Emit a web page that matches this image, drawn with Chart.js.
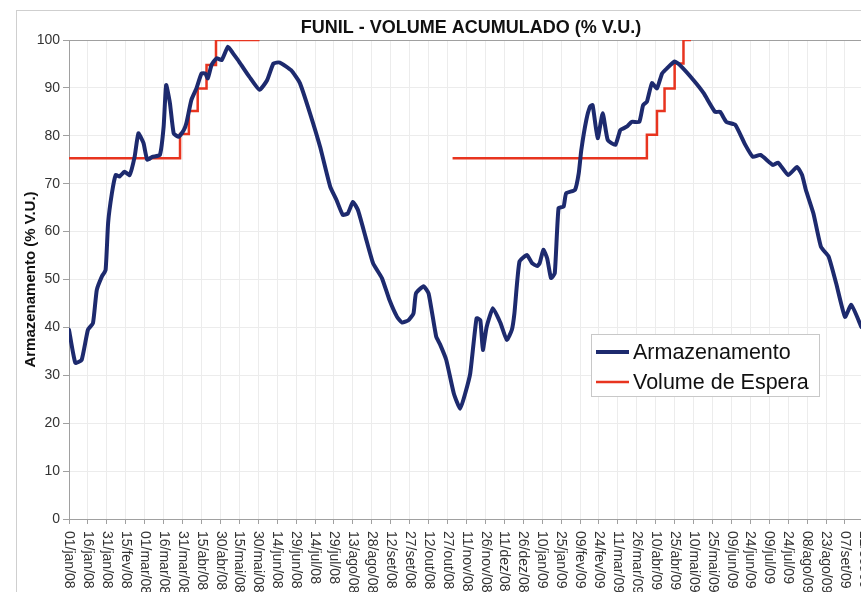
<!DOCTYPE html>
<html>
<head>
<meta charset="utf-8">
<script src="https://cdn.jsdelivr.net/npm/chart.js@4"></script>
<style>
  html, body { margin: 0; padding: 0; background: #fff; overflow: hidden; }
  #wrap { width: 861px; height: 592px; }
</style>
</head>
<body>
<div id="wrap"><canvas id="funil" width="861" height="592"></canvas></div>
<script>
// ===== DATA =====
// day offsets counted from 01/jan/08
const storageDays = [0, 5, 10, 15, 19, 22, 26, 29, 31, 34, 37, 40, 44, 48, 52, 55, 59, 62, 66, 72,
    75, 77, 80, 83, 87, 91, 93, 97, 101, 105, 108, 110, 113, 117, 121, 126, 130, 135, 143, 151,
    157, 162, 167, 176, 183, 191, 199, 207, 212, 217, 221, 225, 229, 235, 241, 248, 254, 260, 264, 269,
    273, 275, 281, 285, 291, 294, 299, 305, 310, 314, 318, 323, 326, 328, 331, 336, 342, 347, 351, 353,
    357, 363, 367, 371, 373, 376, 379, 382, 385, 388, 392, 394, 401, 404, 406, 410, 413, 415, 419, 423,
    427, 433, 437, 442, 446, 452, 455, 458, 462, 466, 470, 474, 480, 484, 495, 503, 512, 516, 521, 528,
    536, 542, 548, 558, 562, 570, 577, 581, 584, 590, 596, 602, 608, 615, 620, 628];
const storageValues = [39.5, 32.6, 33.2, 39.5, 40.9, 47.8, 50.6, 52.0, 61.8, 68.0, 71.8, 71.5, 72.5, 71.8, 75.6, 80.5, 78.5, 75.0, 75.6, 76.0,
    81.9, 90.6, 86.8, 80.5, 79.8, 81.2, 82.6, 87.5, 89.9, 93.0, 93.0, 92.0, 94.8, 96.2, 95.8, 98.6, 97.2, 95.4, 92.3, 89.6,
    91.6, 95.1, 95.3, 93.7, 91.0, 84.7, 77.7, 69.4, 66.6, 63.5, 63.8, 66.2, 64.5, 58.9, 53.4, 50.3, 45.7, 42.2, 41.0, 41.5,
    42.9, 47.1, 48.6, 47.1, 38.1, 36.5, 33.2, 26.2, 23.0, 26.2, 30.4, 41.9, 41.5, 35.3, 40.1, 44.0, 40.9, 37.4, 39.5, 42.9,
    53.7, 55.1, 53.4, 52.8, 53.4, 56.2, 54.4, 50.3, 51.3, 64.9, 65.2, 68.0, 68.7, 72.2, 77.0, 83.3, 86.1, 86.4, 79.5, 84.7,
    79.1, 78.1, 81.2, 81.9, 82.9, 82.9, 86.4, 87.1, 91.0, 89.9, 93.0, 94.1, 95.5, 94.8, 91.6, 88.9, 85.0, 85.0, 82.9, 82.3,
    78.1, 75.6, 76.0, 73.9, 74.4, 71.8, 73.5, 71.8, 68.7, 63.8, 56.8, 54.8, 49.2, 42.2, 44.7, 40.1];

// step start days of the waiting volume (null = no value)
const waitDays = [0, 88, 95, 102, 109, 116.5, 151, 200, 304, 458, 466, 472, 480, 487, 493];
const waitValues = [75.3, 80.4, 85.2, 89.9, 94.8, 100, 100, null, 75.3, 80.2, 85.2, 89.9, 95.1, 100, 100];

const tickStep = 15;
const tickLabels = ['01/jan/08', '16/jan/08', '31/jan/08', '15/fev/08', '01/mar/08', '16/mar/08', '31/mar/08',
    '15/abr/08', '30/abr/08', '15/mai/08', '30/mai/08', '14/jun/08', '29/jun/08', '14/jul/08', '29/jul/08',
    '13/ago/08', '28/ago/08', '12/set/08', '27/set/08', '12/out/08', '27/out/08', '11/nov/08', '26/nov/08',
    '11/dez/08', '26/dez/08', '10/jan/09', '25/jan/09', '09/fev/09', '24/fev/09', '11/mar/09', '26/mar/09',
    '10/abr/09', '25/abr/09', '10/mai/09', '25/mai/09', '09/jun/09', '24/jun/09', '09/jul/09', '24/jul/09',
    '08/ago/09', '23/ago/09', '07/set/09', '22/set/09'];

const seriesNames = ['Armazenamento', 'Volume de Espera'];
const BLUE = '#1d2a6e';
const RED = '#e8341f';
const FONT = "'Liberation Sans', Arial, sans-serif";
const X_MAX = 627.7;

// ===== DECORATION PLUGIN =====
const decor = {
    id: 'decor',
    beforeDraw(chart) {
        const ctx = chart.ctx;
        ctx.save();
        ctx.fillStyle = '#fff';
        ctx.fillRect(0, 0, chart.width, chart.height);
        ctx.strokeStyle = '#cfcfcf';
        ctx.lineWidth = 1;
        ctx.strokeRect(16.5, 10.5, 2000, 2000);
        ctx.restore();
    },
    beforeDatasetsDraw(chart) {
        // top edge of plot, under the lines
        const ctx = chart.ctx;
        const area = chart.chartArea;
        ctx.save();
        ctx.strokeStyle = '#a0a0a0';
        ctx.lineWidth = 1;
        ctx.beginPath();
        ctx.moveTo(area.left, Math.round(area.top) + 0.5);
        ctx.lineTo(area.right, Math.round(area.top) + 0.5);
        ctx.stroke();
        ctx.restore();
    },
    afterDraw(chart) {
        const ctx = chart.ctx;
        const area = chart.chartArea;
        const xs = chart.scales.x;
        ctx.save();

        // title
        ctx.fillStyle = '#111';
        ctx.font = 'bold 18px ' + FONT;
        ctx.textAlign = 'center';
        ctx.textBaseline = 'middle';
        ctx.fillText('FUNIL - VOLUME ACUMULADO (% V.U.)', 471, 28);

        // x labels, reading top to bottom
        ctx.font = '14px ' + FONT;
        ctx.fillStyle = '#333';
        ctx.textAlign = 'left';
        tickLabels.forEach((lab, i) => {
            const px = xs.getPixelForValue(i * tickStep);
            ctx.save();
            ctx.translate(px, area.bottom + 12);
            ctx.rotate(Math.PI / 2);
            ctx.fillText(lab, 0, 0);
            ctx.restore();
        });

        // legend box
        const lx = 591, ly = 334, lw = 228, lh = 62;
        ctx.fillStyle = '#fff';
        ctx.fillRect(lx, ly, lw, lh);
        ctx.strokeStyle = '#c8c8c8';
        ctx.lineWidth = 1;
        ctx.strokeRect(lx + 0.5, ly + 0.5, lw, lh);
        const rows = [{ c: BLUE, w: 4, y: 352 }, { c: RED, w: 2.5, y: 382 }];
        ctx.font = '21.5px ' + FONT;
        ctx.fillStyle = '#111';
        ctx.textBaseline = 'middle';
        rows.forEach((r, i) => {
            ctx.strokeStyle = r.c;
            ctx.lineWidth = r.w;
            ctx.beginPath();
            ctx.moveTo(596, r.y);
            ctx.lineTo(629, r.y);
            ctx.stroke();
            ctx.fillText(seriesNames[i], 633, r.y + 1);
        });
        ctx.restore();
    }
};

// ===== CHART =====
new Chart(document.getElementById('funil'), {
    type: 'line',
    data: {
        datasets: [
            {
                label: seriesNames[0],
                data: storageDays.map((d, i) => ({ x: d, y: storageValues[i] })),
                borderColor: BLUE,
                borderWidth: 4,
                pointRadius: 0,
                tension: 0.15,
                borderJoinStyle: 'round',
                borderCapStyle: 'round'
            },
            {
                label: seriesNames[1],
                data: waitDays.map((d, i) => ({ x: d, y: waitValues[i] })),
                borderColor: RED,
                borderWidth: 2.5,
                pointRadius: 0,
                stepped: 'before',
                spanGaps: false
            }
        ]
    },
    options: {
        responsive: false,
        animation: false,
        layout: { padding: { left: 0, right: 0, top: 40, bottom: 68 } },
        plugins: {
            legend: { display: false },
            title: { display: false },
            tooltip: { enabled: false }
        },
        scales: {
            x: {
                type: 'linear',
                min: 0,
                max: X_MAX,
                afterBuildTicks: scale => {
                    scale.ticks = tickLabels.map((_, i) => ({ value: i * tickStep }))
                        .filter(t => t.value <= X_MAX);
                },
                ticks: { display: false },
                grid: { color: '#ececec', tickLength: 5, tickColor: '#a0a0a0' },
                border: { color: '#a0a0a0' }
            },
            y: {
                min: 0,
                max: 100,
                afterFit: scale => { scale.width = 69; },
                ticks: {
                    stepSize: 10,
                    padding: 3,
                    color: '#333',
                    font: { size: 14, family: FONT }
                },
                grid: { color: '#ececec', tickLength: 6, tickColor: '#a0a0a0' },
                border: { color: '#a0a0a0' },
                title: {
                    display: true,
                    text: 'Armazenamento (% V.U.)',
                    color: '#111',
                    font: { size: 15, weight: 'bold', family: FONT },
                    padding: { top: 22, bottom: 0 }
                }
            }
        }
    },
    plugins: [decor]
});
</script>
</body>
</html>
